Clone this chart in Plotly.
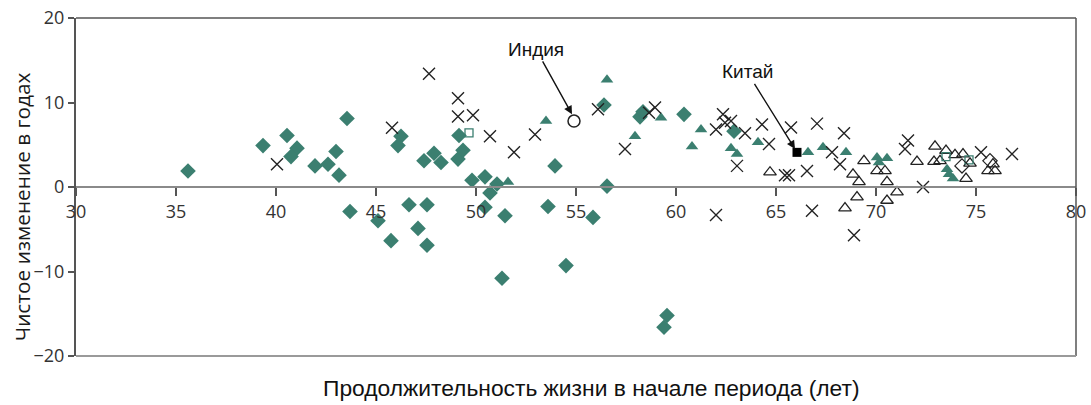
import plotly.graph_objects as go

# ---- data (x: life expectancy at start, y: net change in years) ----
dia_x = [35.6, 39.35, 40.55, 41.05, 40.75, 41.95, 42.6, 43.0, 43.15, 43.55, 43.7, 45.1, 45.75,
         46.25, 46.1, 47.4, 47.9, 48.25, 49.1, 49.35, 49.15, 49.8, 50.45, 51.05, 50.7, 46.65,
         47.55, 47.1, 47.55, 50.45, 51.45, 51.3, 53.6, 53.95, 54.5, 55.85, 56.55, 56.4, 58.2,
         58.35, 60.4, 62.9, 59.55, 59.4]
dia_y = [1.9, 4.9, 6.1, 4.6, 3.6, 2.5, 2.7, 4.2, 1.4, 8.1, -2.9, -4.0, -6.35,
         6.0, 4.9, 3.1, 4.0, 2.9, 3.3, 4.35, 6.1, 0.8, 1.2, 0.35, -0.7, -2.1,
         -2.1, -4.9, -6.9, -2.4, -3.4, -10.8, -2.3, 2.5, -9.3, -3.6, 0.1, 9.7, 8.3,
         8.9, 8.6, 6.6, -15.2, -16.6]

tri_x = [51.6, 53.5, 56.55, 57.95, 59.25, 61.25, 60.8, 62.75, 63.05, 64.1, 66.6, 67.35, 68.5,
         70.05, 70.55, 70.15, 73.55, 73.65, 73.85]
tri_y = [0.6, 7.8, 12.7, 6.0, 8.2, 6.8, 4.8, 4.6, 3.9, 5.3, 4.1, 4.7, 4.1,
         3.5, 3.4, 2.9, 2.1, 1.5, 1.0]

x_x = [40.05, 45.8, 47.65, 49.1, 49.1, 49.85, 50.7, 51.9, 52.95, 56.1, 57.45, 58.65, 58.95,
       62.0, 62.35, 62.45, 62.75, 63.45, 63.05, 64.3, 64.65, 65.45, 65.65, 65.75, 62.0, 66.55,
       67.05, 66.8, 67.8, 68.2, 68.4, 68.9, 71.45, 71.6, 72.35, 75.25, 76.8]
x_y = [2.7, 7.0, 13.4, 10.5, 8.35, 8.5, 6.0, 4.1, 6.2, 9.2, 4.5, 8.8, 9.4,
       6.8, 8.6, 7.6, 7.8, 6.35, 2.5, 7.4, 5.1, 1.4, 1.4, 7.05, -3.3, 1.9,
       7.5, -2.8, 4.1, 2.7, 6.35, -5.7, 4.5, 5.5, 0.0, 4.1, 3.9]

otri_x = [64.7, 68.45, 68.85, 69.15, 69.05, 69.4, 70.05, 70.45, 70.55, 71.05, 70.55, 72.05,
          72.95, 72.9, 73.2, 73.5, 73.95, 74.35, 74.5, 74.7, 75.6, 75.95, 75.85]
otri_y = [1.75, -2.5, 1.5, 0.6, -1.2, 3.1, 1.9, 1.9, 0.6, -0.6, -1.6, 3.0,
          4.8, 3.0, 3.1, 4.3, 3.8, 3.9, 1.0, 2.8, 1.9, 1.9, 2.7]

osq_x = [49.65, 73.5, 74.65]
osq_y = [6.4, 3.6, 3.2]

odia_x = [74.3, 75.7]
odia_y = [2.5, 3.1]

india_x, india_y = [54.9], [7.8]
china_x, china_y = [66.05], [4.1]

x_ticks = [30, 35, 40, 45, 50, 55, 60, 65, 70, 75, 80]
y_ticks = [-20, -10, 0, 10, 20]

TEAL = "#3b7f70"

fig = go.Figure()
fig.add_trace(go.Scatter(x=dia_x, y=dia_y, mode="markers",
                         marker=dict(symbol="diamond", size=12, color=TEAL, line=dict(width=0))))
fig.add_trace(go.Scatter(x=tri_x, y=tri_y, mode="markers",
                         marker=dict(symbol="triangle-up", size=11, color=TEAL, line=dict(width=0))))
fig.add_trace(go.Scatter(x=x_x, y=x_y, mode="markers",
                         marker=dict(symbol="x-thin-open", size=12, color="#222",
                                     line=dict(width=1.4, color="#222"))))
fig.add_trace(go.Scatter(x=otri_x, y=otri_y, mode="markers",
                         marker=dict(symbol="triangle-up-open", size=11, color="#222",
                                     line=dict(width=1.3, color="#222"))))
fig.add_trace(go.Scatter(x=osq_x, y=osq_y, mode="markers",
                         marker=dict(symbol="square-open", size=8, color=TEAL,
                                     line=dict(width=1.3, color=TEAL))))
fig.add_trace(go.Scatter(x=odia_x, y=odia_y, mode="markers",
                         marker=dict(symbol="diamond-open", size=11, color="#222",
                                     line=dict(width=1.2, color="#222"))))
fig.add_trace(go.Scatter(x=india_x, y=india_y, mode="markers",
                         marker=dict(symbol="circle-open", size=12, color="#222",
                                     line=dict(width=1.5, color="#222"))))
fig.add_trace(go.Scatter(x=china_x, y=china_y, mode="markers",
                         marker=dict(symbol="square", size=9, color="#000")))

fig.update_layout(
    width=1091, height=405,
    margin=dict(l=76, r=15, t=18, b=49),
    paper_bgcolor="white", plot_bgcolor="white",
    showlegend=False,
    font=dict(family="Open Sans, Noto Sans, sans-serif", color="#333"),
    xaxis=dict(range=[30, 80], tickvals=x_ticks, showgrid=False, zeroline=False,
               showline=True, linecolor="#8a8a8a", linewidth=2, automargin=False,
               ticks="outside", ticklen=8, tickcolor="#555", tickwidth=1.5,
               anchor="free", position=0.5,
               tickfont=dict(size=18, color="#333")),
    yaxis=dict(range=[-20, 20], tickvals=y_ticks, showgrid=False, zeroline=False,
               showline=True, linecolor="#555", linewidth=2, automargin=False,
               ticks="outside", ticklen=6, tickcolor="#555", tickwidth=1.5,
               tickfont=dict(size=18, color="#333")),
)

# frame (top, right, bottom)
fig.add_shape(type="line", xref="paper", yref="paper", x0=0, x1=1, y0=1, y1=1,
              line=dict(color="#555", width=1.5))
fig.add_shape(type="line", xref="paper", yref="paper", x0=1, x1=1, y0=0, y1=1,
              line=dict(color="#555", width=1.5))
fig.add_shape(type="line", xref="paper", yref="paper", x0=0, x1=1, y0=0, y1=0,
              line=dict(color="#9a9a9a", width=2))

# axis titles
fig.add_annotation(text="Продолжительность жизни в начале периода (лет)",
                   xref="paper", yref="paper", x=0.515, y=-0.095, showarrow=False,
                   xanchor="center", yanchor="middle",
                   font=dict(family="Liberation Sans, Arial, sans-serif",
                             size=22.8, color="#111"))
fig.add_annotation(text="Чистое изменение в годах", textangle=-90,
                   xref="paper", yref="paper", x=-0.054, y=0.44, showarrow=False,
                   xanchor="center", yanchor="middle",
                   font=dict(family="Open Sans, Noto Sans, sans-serif", size=20.8, color="#1a1a1a"))

# callouts
fig.add_annotation(text="Индия", x=54.8, y=8.6, ax=-36, ay=-65,
                   showarrow=True, arrowhead=2, arrowsize=1.2, arrowwidth=1.4, arrowcolor="#111",
                   font=dict(family="Liberation Sans, Arial, sans-serif", size=19, color="#111"))
fig.add_annotation(text="Китай", x=65.95, y=4.5, ax=-48, ay=-77,
                   showarrow=True, arrowhead=2, arrowsize=1.2, arrowwidth=1.4, arrowcolor="#111",
                   font=dict(family="Liberation Sans, Arial, sans-serif", size=19, color="#111"))

fig.write_html("out.html", config={"displayModeBar": False},
               post_script="document.body.style.margin='0';")
